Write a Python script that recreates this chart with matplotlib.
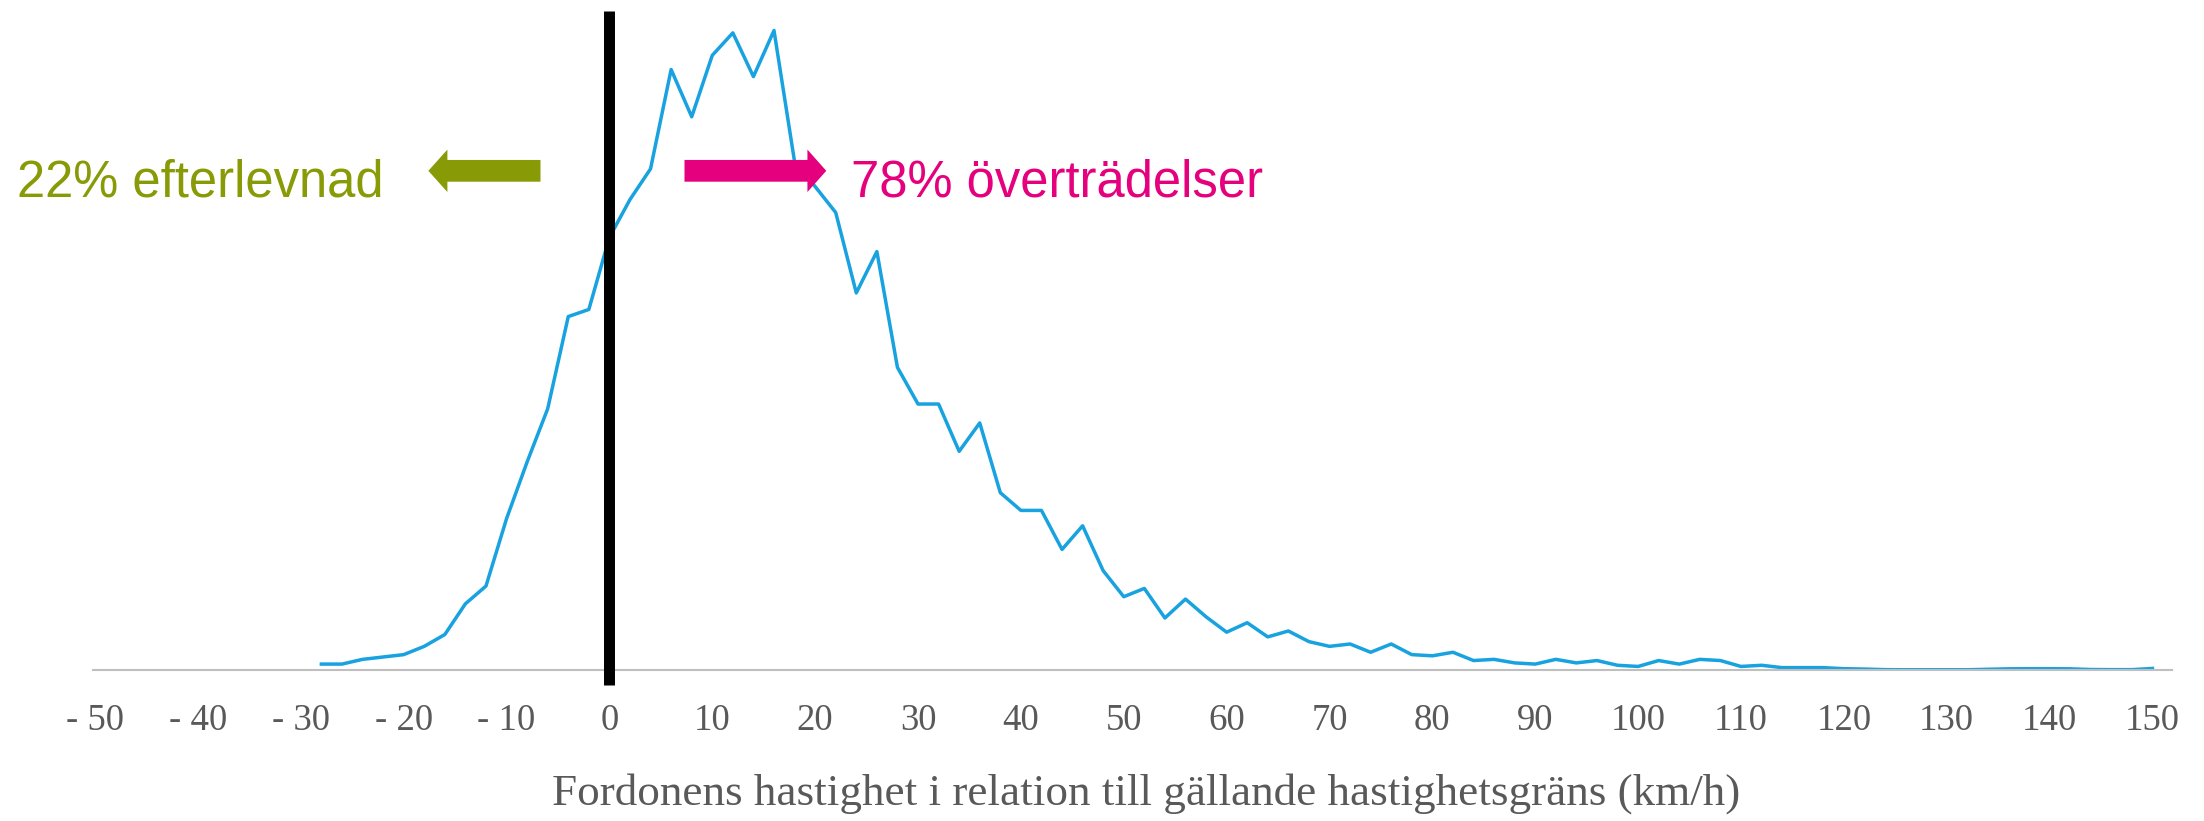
import matplotlib
matplotlib.use("Agg")
import matplotlib.pyplot as plt
from matplotlib.patches import FancyArrow

# hastighet i förhållande till hastighetsgränsen (km/h), steg om 2
speed = list(range(-28, 152, 2))
# andel fordon per intervall (%)
share = [
    0.05, 0.05, 0.09, 0.11, 0.13, 0.20, 0.30, 0.56, 0.71, 1.28,   # -28 .. -10
    1.76, 2.21, 2.99, 3.05, 3.66, 3.98, 4.24, 5.08, 4.68, 5.20,   # -8 .. 10
    5.39, 5.02, 5.41, 4.30, 4.09, 3.87, 3.19, 3.54, 2.56, 2.25,   # 12 .. 30
    2.25, 1.85, 2.09, 1.50, 1.35, 1.35, 1.02, 1.22, 0.84, 0.62,   # 32 .. 50
    0.69, 0.44, 0.60, 0.45, 0.32, 0.40, 0.28, 0.33, 0.24, 0.20,   # 52 .. 70
    0.22, 0.15, 0.22, 0.13, 0.12, 0.15, 0.08, 0.09, 0.06, 0.05,   # 72 .. 90
    0.09, 0.06, 0.08, 0.04, 0.03, 0.08, 0.05, 0.09, 0.08, 0.03,   # 92 .. 110
    0.04, 0.02, 0.02, 0.02, 0.011, 0.008, 0.003, 0.002, 0.002, 0.002,  # 112 .. 130
    0.002, 0.006, 0.010, 0.011, 0.011, 0.010, 0.004, 0.003, 0.003, 0.013,  # 132 .. 150
]

tick_vals = list(range(-50, 151, 10))
tick_labels = [("- %d" % -t) if t < 0 else str(t) for t in tick_vals]

label_left = "22% efterlevnad"
label_right = "78% överträdelser"
xlabel = "Fordonens hastighet i relation till gällande hastighetsgräns (km/h)"

blue = "#18A2E0"
green = "#889A06"
pink = "#E5007D"
grey = "#595959"

W, H = 2204, 821
fig = plt.figure(figsize=(W / 100, H / 100), dpi=100)
ax = fig.add_axes([93 / W, 151 / H, 2079 / W, 659 / H])

ax.plot(speed, share, color=blue, lw=2.5, zorder=2)
ax.set_xlim(-50.2, 151.9)
ax.set_ylim(0, 5.575)

# gränsen
ax.axvline(0, ymin=-15 / 659, ymax=1, color="black", lw=7.9,
           solid_capstyle="butt", clip_on=False, zorder=3)

# pilar
ax.add_patch(FancyArrow(-6.7, 4.223, -10.9, 0, width=0.184, head_width=0.359,
                        head_length=1.85, length_includes_head=True,
                        color=green, lw=0, zorder=4))
ax.add_patch(FancyArrow(7.3, 4.223, 13.78, 0, width=0.184, head_width=0.359,
                        head_length=1.83, length_includes_head=True,
                        color=pink, lw=0, zorder=4))

fig.text(17 / W, (H - 196) / H, label_left, color=green, fontsize=36.5,
         family="Liberation Sans", va="baseline", ha="left")
fig.text(851 / W, (H - 196) / H, label_right, color=pink, fontsize=36.5,
         family="Liberation Sans", va="baseline", ha="left")

for s in ["top", "left", "right"]:
    ax.spines[s].set_visible(False)
ax.spines["bottom"].set_color("#BFBFBF")
ax.spines["bottom"].set_linewidth(1.5)
ax.set_yticks([])
ax.set_xticks(tick_vals)
ax.set_xticklabels(tick_labels, family="Liberation Serif", fontsize=26.5, color=grey)
ax.tick_params(axis="x", length=0, pad=24)

ax.set_xlabel(xlabel, family="Liberation Serif", fontsize=32.5, color=grey, va="center")
ax.xaxis.set_label_coords(0.5065, -0.188)

fig.savefig("out.png", dpi=100)
